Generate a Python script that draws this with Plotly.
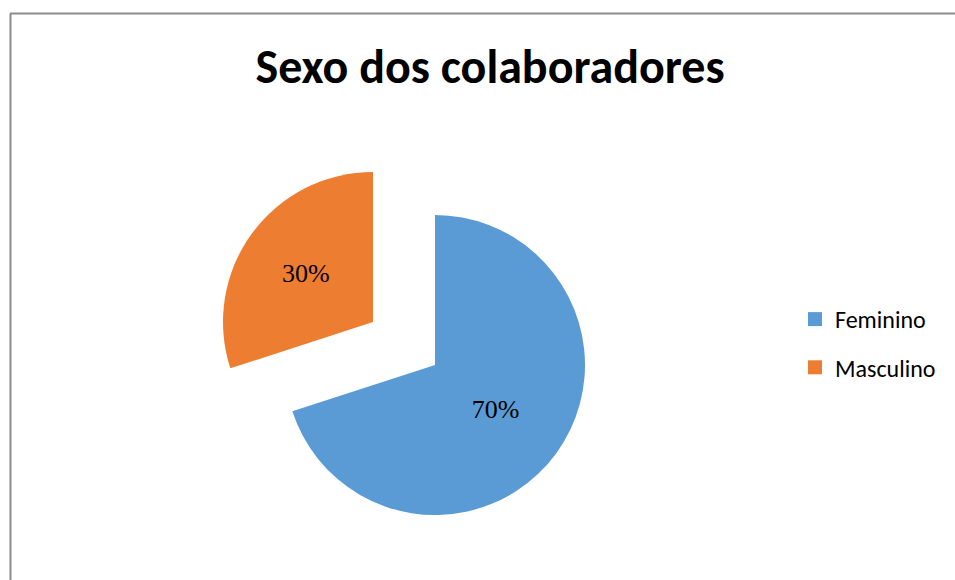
import plotly.graph_objects as go

title_text = "Sexo dos colaboradores"
categories = ["Feminino", "Masculino"]
values = [70, 30]
colors = ["#5B9BD5", "#ED7D31"]

W, H = 955, 580
R = 150  # pie radius in px
cx, cy = 435, 365          # centre of the main pie
pcx, pcy = 373, 322        # centre of the pulled-out slice

def dom(x, y):
    return dict(x=[(x - R) / W, (x + R) / W],
                y=[(H - y - R) / H, (H - y + R) / H])

fig = go.Figure()

# main pie: Feminino visible, Masculino slot left empty
fig.add_trace(go.Pie(
    labels=categories, values=values, sort=False, direction="clockwise",
    rotation=0, domain=dom(cx, cy), showlegend=False,
    marker=dict(colors=[colors[0], "rgba(0,0,0,0)"], line=dict(width=0)),
    texttemplate=["%{percent:.0%}", ""], textposition="inside",
    insidetextorientation="horizontal",
    textfont=dict(family="Liberation Serif, Times New Roman, serif", size=26, color="black"),
    hoverinfo="skip",
))
# pulled-out Masculino slice
fig.add_trace(go.Pie(
    labels=categories, values=values, sort=False, direction="clockwise",
    rotation=0, domain=dom(pcx, pcy), showlegend=False,
    marker=dict(colors=["rgba(0,0,0,0)", colors[1]], line=dict(width=0)),
    texttemplate=["", "%{percent:.0%}"], textposition="inside",
    insidetextorientation="horizontal",
    textfont=dict(family="Liberation Serif, Times New Roman, serif", size=26, color="black"),
    hoverinfo="skip",
))

# legend entries
for i, (cat, col) in enumerate(zip(categories, colors)):
    fig.add_trace(go.Scatter(
        x=[None], y=[None], mode="markers", name=cat, legendgroup=f"g{i}",
        marker=dict(symbol="square", size=14, color=col),
    ))

fig.update_layout(
    width=W, height=H,
    margin=dict(l=0, r=0, t=0, b=0),
    paper_bgcolor="white", plot_bgcolor="white",
    xaxis=dict(visible=False), yaxis=dict(visible=False),
    title=dict(text=title_text, x=490 / W, xanchor="center",
               y=1 - 66 / H, yanchor="middle", yref="container",
               font=dict(family="Calibri, Carlito, Lato, sans-serif", size=48,
                         color="black", weight="bold")),
    legend=dict(x=795 / W, xanchor="left", y=(H - 343.5) / H, yanchor="middle",
                font=dict(family="Calibri, Carlito, Lato, sans-serif", size=24, color="black"),
                tracegroupgap=14, bgcolor="rgba(0,0,0,0)"),
    shapes=[
        dict(type="line", xref="paper", yref="paper", x0=10 / W, x1=1.0,
             y0=(H - 13.5) / H, y1=(H - 13.5) / H, line=dict(color="#8c8c8c", width=2)),
        dict(type="line", xref="paper", yref="paper", x0=10.5 / W, x1=10.5 / W,
             y0=0, y1=(H - 13.5) / H, line=dict(color="#8c8c8c", width=2)),
    ],
)

fig.write_html("out.html")
